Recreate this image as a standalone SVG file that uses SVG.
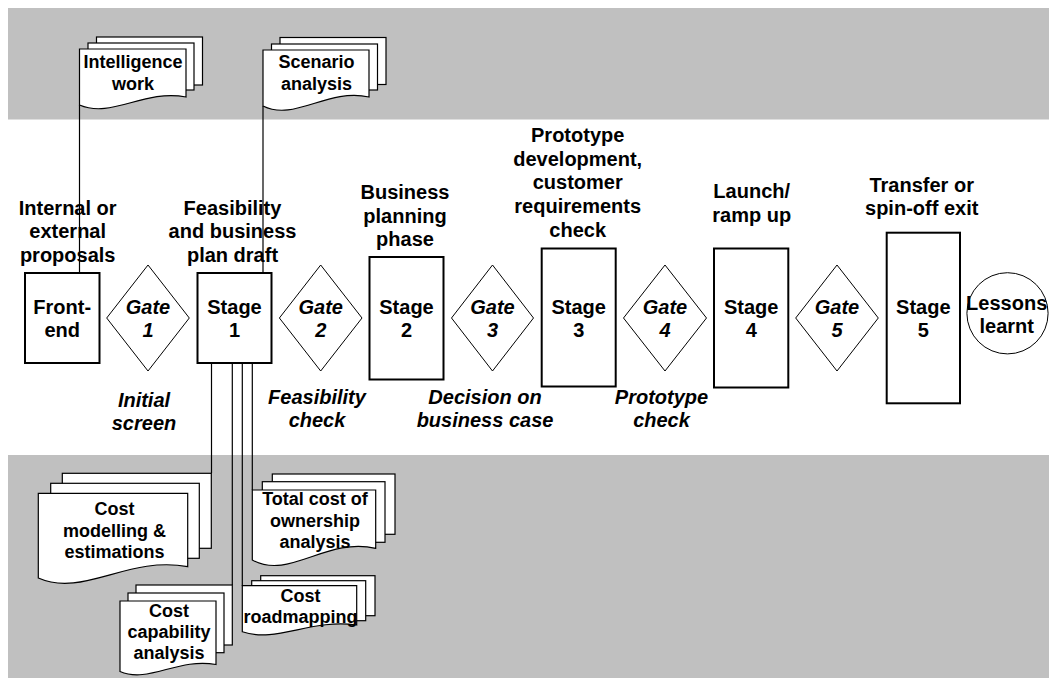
<svg xmlns="http://www.w3.org/2000/svg" width="1049" height="678" viewBox="0 0 1049 678">
  <style>
    .band { fill: #c0c0c0; }
    .box { fill: #ffffff; stroke: #000000; stroke-width: 2; }
    .gate { fill: #ffffff; stroke: #000000; stroke-width: 1; }
    .page { fill: #ffffff; stroke: #000000; stroke-width: 1.2; }
    .link { fill: none; stroke: #000000; stroke-width: 1.2; }
    text { font-family: "Liberation Sans", Arial, sans-serif; font-weight: bold; fill: #000000; text-anchor: middle; }
    .lbl { font-size: 20px; }
    .doc { font-size: 18px; }
    .it { font-size: 20px; font-style: italic; }
  </style>

  <!-- background bands -->
  <rect class="band" x="8" y="8" width="1041" height="111.5"/>
  <rect class="band" x="8" y="455" width="1041" height="223"/>

  <!-- connectors -->
  <g id="connectors">
    <line class="link" x1="79.5" y1="105" x2="79.5" y2="273"/>
    <line class="link" x1="263" y1="106" x2="263" y2="273"/>
    <line class="link" x1="211.5" y1="363" x2="211.5" y2="473.3"/>
    <line class="link" x1="232.3" y1="363" x2="232.3" y2="585"/>
    <line class="link" x1="242.3" y1="363" x2="242.3" y2="585.7"/>
    <line class="link" x1="252.3" y1="363" x2="252.3" y2="490"/>
  </g>

  <!-- supporting document stacks -->
  <g id="doc-intelligence">
    <rect class="page" x="96.5" y="37" width="106" height="48"/>
    <rect class="page" x="88" y="43" width="106" height="47"/>
    <path class="page" d="M79.5,49 H186 V97 C143.4,89 111.5,119 79.5,105 Z"/>
    <text class="doc" x="133" y="68.3">Intelligence</text>
    <text class="doc" x="133" y="90">work</text>
  </g>

  <g id="doc-scenario">
    <rect class="page" x="280" y="37.5" width="106" height="47"/>
    <rect class="page" x="271.5" y="44" width="106" height="46"/>
    <path class="page" d="M263,50 H369 V97 C326.6,88 294.8,121.75 263,106 Z"/>
    <text class="doc" x="316.5" y="68.3">Scenario</text>
    <text class="doc" x="316.5" y="90">analysis</text>
  </g>

  <g id="doc-cost-modelling">
    <rect class="page" x="62.3" y="473.3" width="149" height="75"/>
    <rect class="page" x="50.7" y="483.3" width="148.6" height="75"/>
    <path class="page" d="M38.3,493.3 H187.7 V566.7 C127.9,555.4 83.1,597.8 38.3,578 Z"/>
    <text class="doc" x="114.5" y="515">Cost</text>
    <text class="doc" x="114.5" y="536.5">modelling &amp;</text>
    <text class="doc" x="114.5" y="558">estimations</text>
  </g>

  <g id="doc-cost-capability">
    <rect class="page" x="136" y="585" width="96.3" height="60"/>
    <rect class="page" x="128" y="593" width="96" height="59.7"/>
    <path class="page" d="M120,601 H216 V664.5 C177.6,657.5 148.8,683.75 120,671.5 Z"/>
    <text class="doc" x="169" y="617.3">Cost</text>
    <text class="doc" x="169" y="638.3">capability</text>
    <text class="doc" x="169" y="659.3">analysis</text>
  </g>

  <g id="doc-total-cost">
    <rect class="page" x="272.3" y="474" width="122.7" height="60.3"/>
    <rect class="page" x="262.3" y="481.7" width="122.7" height="60.6"/>
    <path class="page" d="M252.3,490 H375.7 V548.3 C326.3,536.6 289.3,580.5 252.3,560 Z"/>
    <text class="doc" x="315" y="505">Total cost of</text>
    <text class="doc" x="315" y="526.5">ownership</text>
    <text class="doc" x="315" y="548">analysis</text>
  </g>

  <g id="doc-cost-roadmapping">
    <rect class="page" x="260.7" y="575.7" width="114.3" height="40"/>
    <rect class="page" x="251.7" y="580.7" width="114" height="40"/>
    <path class="page" d="M242.3,585.7 H356.7 V625 C311,618.3 276.6,643.4 242.3,631.7 Z"/>
    <text class="doc" x="300.5" y="601.7">Cost</text>
    <text class="doc" x="300.5" y="622.7">roadmapping</text>
  </g>

  <!-- process stages and gates -->
  <g id="front-end">
    <rect class="box" x="25" y="273" width="74.5" height="90"/>
    <text class="lbl" x="62.2" y="313.5">Front-</text>
    <text class="lbl" x="62.2" y="337">end</text>
    <text class="lbl" x="67.7" y="215">Internal or</text>
    <text class="lbl" x="67.7" y="238.3">external</text>
    <text class="lbl" x="67.7" y="261.7">proposals</text>
  </g>

  <g id="gate-1">
    <polygon class="gate" points="148,265 189.3,318 148,371 106.7,318"/>
    <text class="it" x="148" y="313.5">Gate</text>
    <text class="it" x="148" y="337">1</text>
    <text class="it" x="144" y="406.7">Initial</text>
    <text class="it" x="144" y="430">screen</text>
  </g>

  <g id="stage-1">
    <rect class="box" x="197.5" y="273" width="74" height="90"/>
    <text class="lbl" x="234.5" y="313.5">Stage</text>
    <text class="lbl" x="234.5" y="337">1</text>
    <text class="lbl" x="232.5" y="215">Feasibility</text>
    <text class="lbl" x="232.5" y="238.3">and business</text>
    <text class="lbl" x="232.5" y="261.7">plan draft</text>
  </g>

  <g id="gate-2">
    <polygon class="gate" points="320.7,265 362,318 320.7,371 279.4,318"/>
    <text class="it" x="320.7" y="313.5">Gate</text>
    <text class="it" x="320.7" y="337">2</text>
    <text class="it" x="317" y="403.5">Feasibility</text>
    <text class="it" x="317" y="427">check</text>
  </g>

  <g id="stage-2">
    <rect class="box" x="369.5" y="257" width="74" height="122.5"/>
    <text class="lbl" x="406.5" y="314">Stage</text>
    <text class="lbl" x="406.5" y="337.3">2</text>
    <text class="lbl" x="405" y="199">Business</text>
    <text class="lbl" x="405" y="222.5">planning</text>
    <text class="lbl" x="405" y="246">phase</text>
  </g>

  <g id="gate-3">
    <polygon class="gate" points="492.5,265 533.5,318 492.5,371 451.5,318"/>
    <text class="it" x="492.5" y="313.5">Gate</text>
    <text class="it" x="492.5" y="337">3</text>
    <text class="it" x="485" y="403.5">Decision on</text>
    <text class="it" x="485" y="426.7">business case</text>
  </g>

  <g id="stage-3">
    <rect class="box" x="541.7" y="248.5" width="74" height="138"/>
    <text class="lbl" x="578.7" y="313.5">Stage</text>
    <text class="lbl" x="578.7" y="336.7">3</text>
    <text class="lbl" x="577.7" y="141.7">Prototype</text>
    <text class="lbl" x="577.7" y="165.5">development,</text>
    <text class="lbl" x="577.7" y="189">customer</text>
    <text class="lbl" x="577.7" y="213">requirements</text>
    <text class="lbl" x="577.7" y="237">check</text>
  </g>

  <g id="gate-4">
    <polygon class="gate" points="665,265 706.5,318 665,371 623.5,318"/>
    <text class="it" x="665" y="313.5">Gate</text>
    <text class="it" x="665" y="337">4</text>
    <text class="it" x="661.5" y="404">Prototype</text>
    <text class="it" x="661.5" y="426.5">check</text>
  </g>

  <g id="stage-4">
    <rect class="box" x="714" y="248.5" width="74.3" height="139"/>
    <text class="lbl" x="751.2" y="314">Stage</text>
    <text class="lbl" x="751.2" y="337.3">4</text>
    <text class="lbl" x="751.7" y="198.3">Launch/</text>
    <text class="lbl" x="751.7" y="221.7">ramp up</text>
  </g>

  <g id="gate-5">
    <polygon class="gate" points="837,265 878.3,318 837,371 795.7,318"/>
    <text class="it" x="837" y="313.5">Gate</text>
    <text class="it" x="837" y="337">5</text>
  </g>

  <g id="stage-5">
    <rect class="box" x="886.7" y="232.7" width="73.3" height="170.6"/>
    <text class="lbl" x="923.3" y="314">Stage</text>
    <text class="lbl" x="923.3" y="336.7">5</text>
    <text class="lbl" x="921.7" y="191.7">Transfer or</text>
    <text class="lbl" x="921.7" y="215">spin-off exit</text>
  </g>

  <g id="lessons-learnt">
    <circle class="gate" cx="1007.5" cy="313.3" r="40.6"/>
    <text class="lbl" x="1006.7" y="310">Lessons</text>
    <text class="lbl" x="1006.7" y="333.3">learnt</text>
  </g>
</svg>
